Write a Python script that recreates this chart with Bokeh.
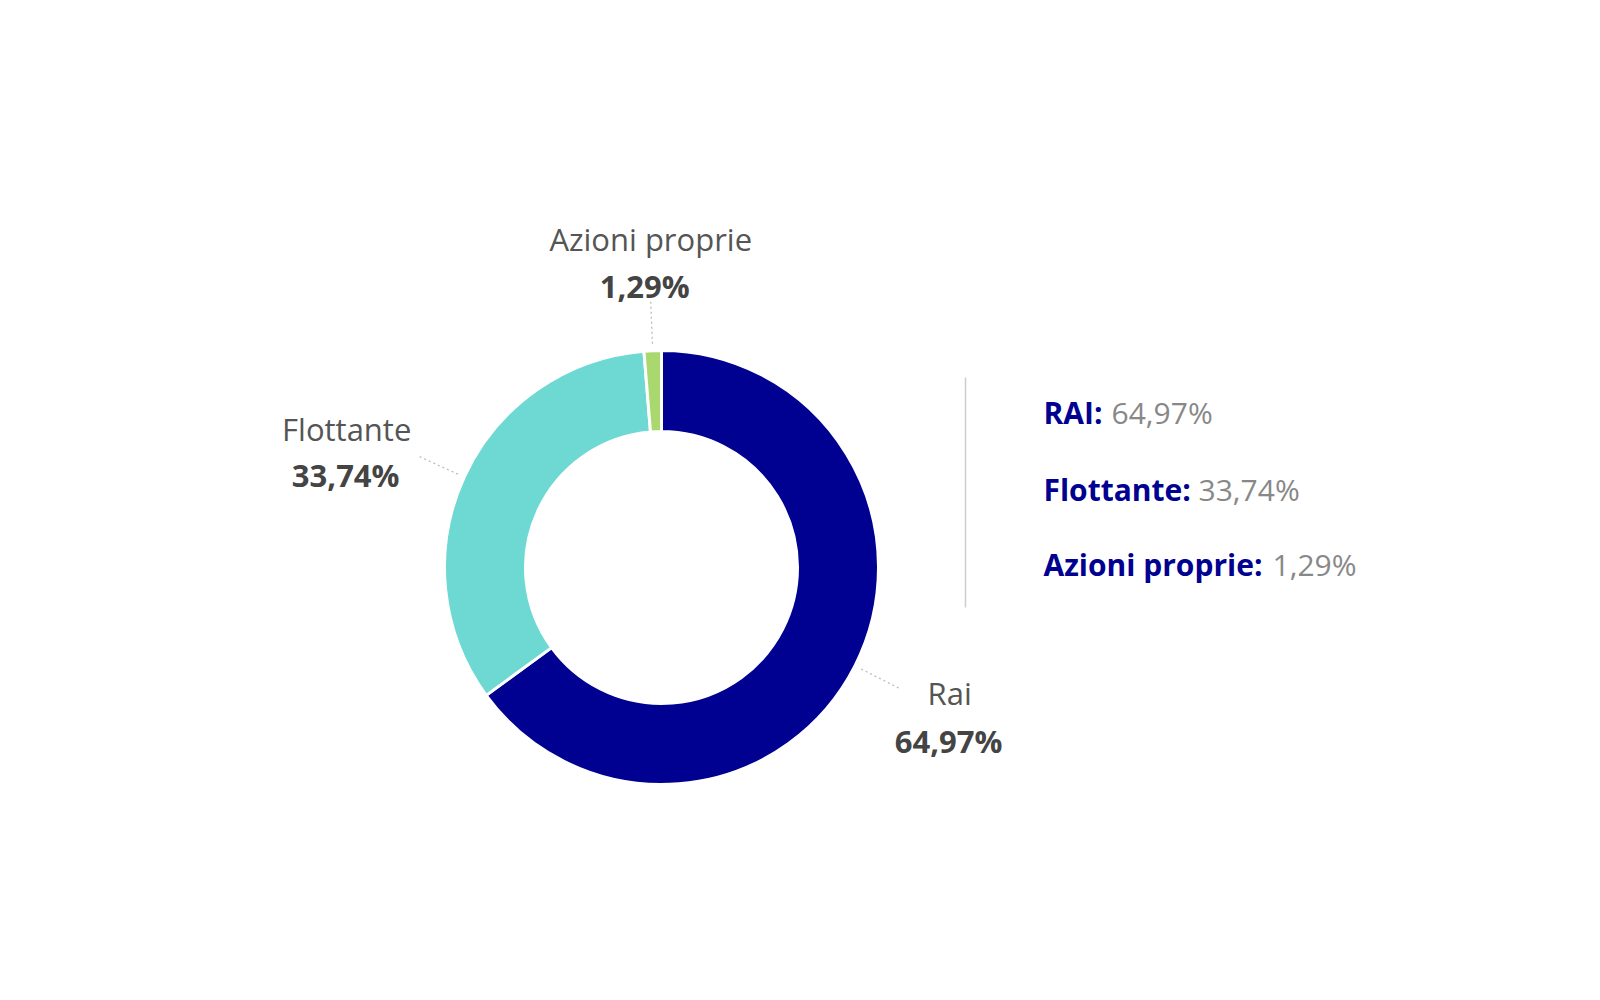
import math
from bokeh.plotting import figure
from bokeh.models import Range1d, ColumnDataSource
from bokeh.core.properties import value
from bokeh.embed import file_html
from bokeh.resources import INLINE

# ---- data ----
categories = ["Rai", "Flottante", "Azioni proprie"]
legend_names = ["RAI:", "Flottante:", "Azioni proprie:"]
shares = [64.97, 33.74, 1.29]
share_labels = ["64,97%", "33,74%", "1,29%"]
colors = ["#000091", "#6ed9d3", "#a9d86e"]

# ---- layout (page pixel coords, y measured from top) ----
W, H = 1584, 984
CX, CY = 661, 567
R_OUT, R_IN = 217, 136
# label block offsets relative to leader end: (dx_name, dx_value, dy_name, dy_value)
label_offsets = [(51, 50, 5, 53), (-73, -74, -28, 18), (0, -6, -63, -16)]
legend_x = 1043
legend_y = [412, 489, 564]
legend_value_x = [1111, 1198, 1272]
FONT = "Open Sans"


def Y(page_y):
    return 1000 - page_y


p = figure(width=W, height=H, output_backend="svg", toolbar_location=None,
           x_range=Range1d(0, W), y_range=Range1d(1000 - H, 1000),
           min_border=0, outline_line_color=None, background_fill_color="white",
           border_fill_color="white")
p.axis.visible = False
p.grid.visible = False

total = sum(shares)
starts, ends, mids = [], [], []
acc = 0.0
for s in shares:
    a0 = math.pi / 2 - 2 * math.pi * acc / total
    acc += s
    a1 = math.pi / 2 - 2 * math.pi * acc / total
    starts.append(a0)
    ends.append(a1)
    mids.append((a0 + a1) / 2)

src = ColumnDataSource(dict(x=[CX] * 3, y=[Y(CY)] * 3, start=starts, end=ends,
                            color=colors, name=categories))
p.annular_wedge(x="x", y="y", inner_radius=R_IN, outer_radius=R_OUT,
                start_angle="start", end_angle="end", direction="clock",
                fill_color="color", line_color="white", line_width=3, source=src)

# leaders and data labels
for i, m in enumerate(mids):
    ux, uy = math.cos(m), math.sin(m)
    r0, r1 = R_OUT + 7, R_OUT + 49
    x0, y0 = CX + r0 * ux, Y(CY) + r0 * uy
    x1, y1 = CX + r1 * ux, Y(CY) + r1 * uy
    p.line([x0, x1], [y0, y1], line_color="#bbbbbb", line_width=1.3, line_dash="2 3")
    dxn, dxv, dyn, dyv = label_offsets[i]
    p.text(x=[x1 + dxn], y=[y1 - dyn], text=[categories[i]], text_font=value(FONT),
           text_font_size="31px", text_color="#555555", text_align="center",
           text_baseline="middle")
    p.text(x=[x1 + dxv], y=[y1 - dyv], text=[share_labels[i]], text_font=value(FONT),
           text_font_size="31px", text_font_style="bold", text_color="#444444",
           text_align="center", text_baseline="middle")

# separator line
p.line([965, 965], [Y(377), Y(607)], line_color="#cccccc", line_width=1.5)

# legend
for i in range(3):
    p.text(x=[legend_x], y=[Y(legend_y[i])], text=[legend_names[i]], text_font=value(FONT),
           text_font_size="30px", text_font_style="bold", text_color="#000091",
           text_align="left", text_baseline="middle")
    p.text(x=[legend_value_x[i]], y=[Y(legend_y[i])], text=[share_labels[i]],
           text_font=value(FONT), text_font_size="30px", text_color="#888888",
           text_align="left", text_baseline="middle")

open("out.html", "w").write(file_html(p, INLINE))
